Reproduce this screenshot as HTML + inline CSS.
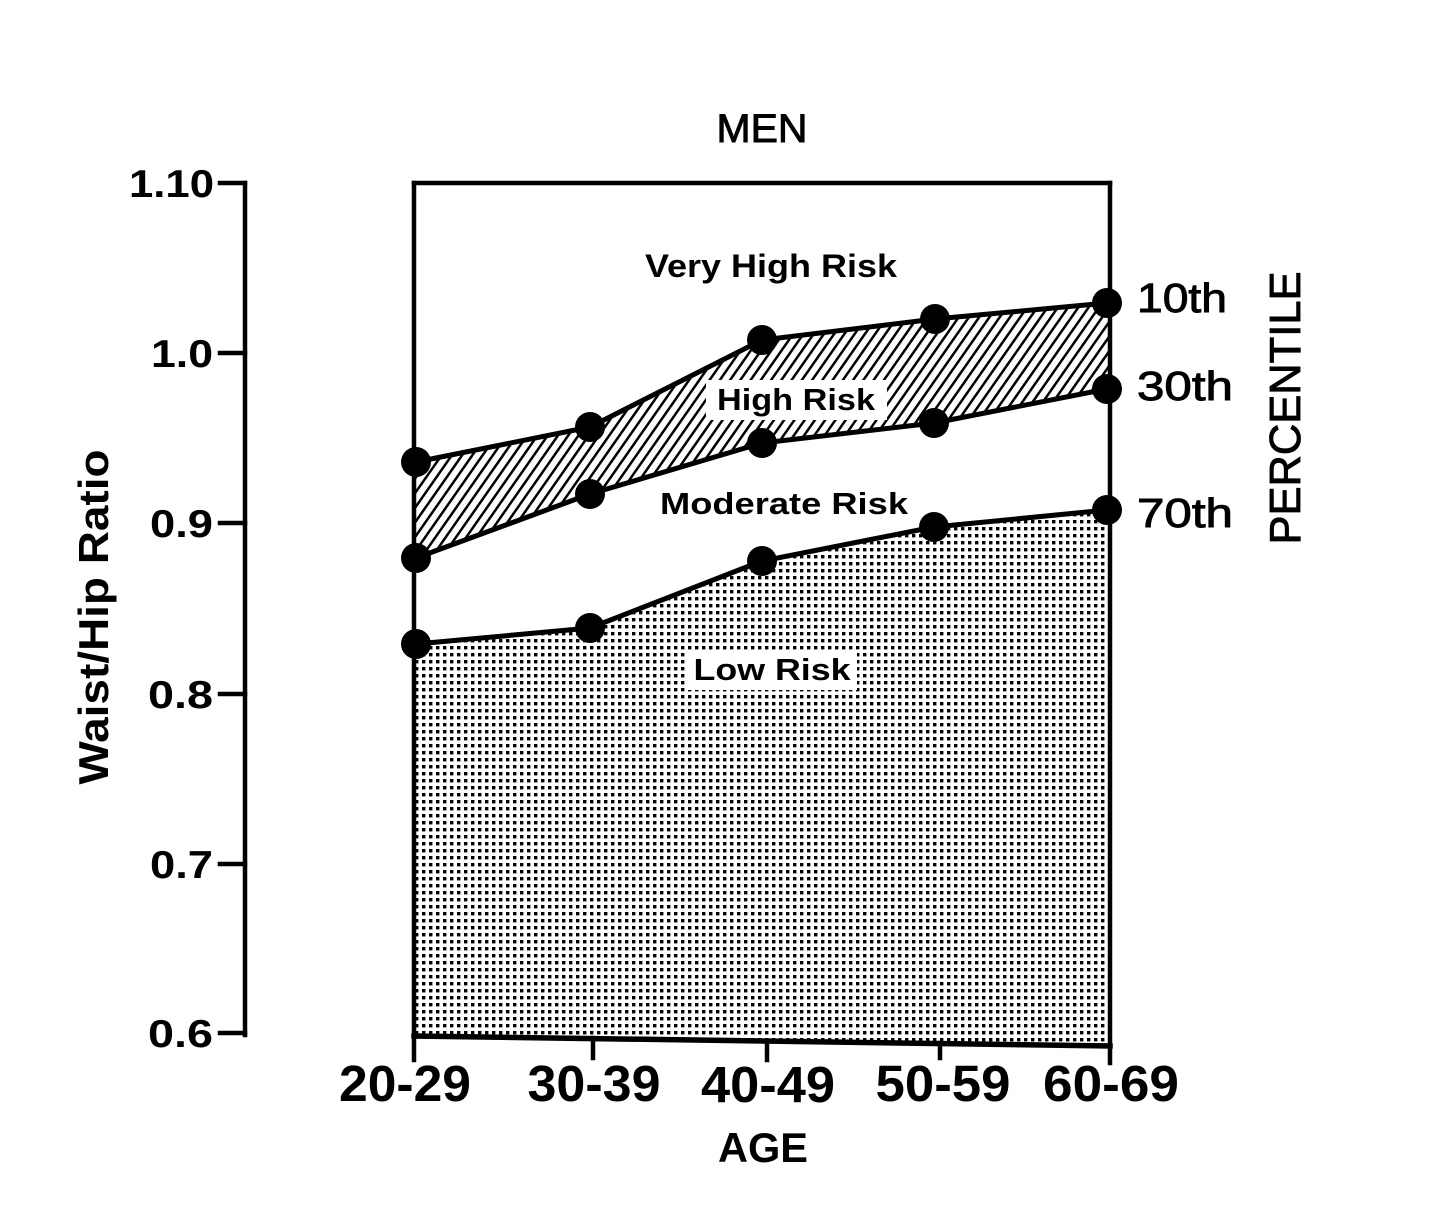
<!DOCTYPE html>
<html>
<head>
<meta charset="utf-8">
<style>
  html, body { margin: 0; padding: 0; background: #fff; }
  svg { display: block; }
  text { font-family: "Liberation Sans", "DejaVu Sans", sans-serif; fill: #000; }
  .med { stroke: #000; stroke-width: 0.9; }
</style>
</head>
<body>
<svg width="1440" height="1230" viewBox="0 0 1440 1230" xmlns="http://www.w3.org/2000/svg">
  <defs>
    <pattern id="dots" patternUnits="userSpaceOnUse" width="7" height="7">
      <rect x="2" y="2" width="3.4" height="3.4" fill="#000"/>
    </pattern>
    <pattern id="hatch" patternUnits="userSpaceOnUse" width="8.4" height="40" patternTransform="rotate(35)">
      <rect x="0" y="0" width="2.5" height="40" fill="#000"/>
    </pattern>
  </defs>

  <rect x="0" y="0" width="1440" height="1230" fill="#fff"/>

  <!-- Low risk dotted area -->
  <polygon points="414,644 590,628 762,561 934,527 1108,510 1108,1046 414,1035" fill="url(#dots)"/>
  <!-- High risk hatched band -->
  <polygon points="414,462 590,427 762,340 935,318 1108,303 1108,388 934,423 762,443 590,494 414,558" fill="url(#hatch)"/>

  <!-- white label backgrounds -->
  <rect x="706" y="380" width="181" height="40" fill="#fff"/>
  <rect x="687" y="650" width="170" height="40" fill="#fff"/>

  <!-- Left axis -->
  <g stroke="#000" stroke-width="4.5" fill="none" stroke-linecap="square">
    <line x1="245" y1="183" x2="245" y2="1035"/>
    <line x1="220" y1="183" x2="245" y2="183"/>
    <line x1="220" y1="353" x2="245" y2="353"/>
    <line x1="220" y1="523" x2="245" y2="523"/>
    <line x1="220" y1="694" x2="245" y2="694"/>
    <line x1="220" y1="864" x2="245" y2="864"/>
    <line x1="220" y1="1033" x2="245" y2="1033"/>
  </g>

  <!-- Chart box -->
  <g stroke="#000" stroke-width="4.5" fill="none" stroke-linecap="square">
    <line x1="414" y1="183" x2="1110" y2="183"/>
    <line x1="414" y1="183" x2="414" y2="1060"/>
    <line x1="1110" y1="183" x2="1110" y2="1063"/>
    <line x1="414" y1="1036" x2="1110" y2="1046" stroke-width="5.5"/>
    <line x1="593" y1="1038" x2="593" y2="1058"/>
    <line x1="767" y1="1041" x2="767" y2="1060"/>
    <line x1="940" y1="1043" x2="940" y2="1058"/>
  </g>

  <!-- Percentile lines -->
  <g stroke="#000" stroke-width="5" fill="none" stroke-linejoin="round">
    <polyline points="416,462 590,427 762,340 935,319 1107,303"/>
    <polyline points="416,558 590,494 762,443 934,423 1107,389"/>
    <polyline points="416,644 590,628 762,561 934,527 1107,510"/>
  </g>

  <!-- Markers -->
  <g fill="#000">
    <circle cx="416" cy="462" r="15"/>
    <circle cx="590" cy="427" r="15"/>
    <circle cx="762" cy="340" r="15"/>
    <circle cx="935" cy="319" r="15"/>
    <circle cx="1107" cy="303" r="15"/>

    <circle cx="416" cy="558" r="15"/>
    <circle cx="590" cy="494" r="15"/>
    <circle cx="762" cy="443" r="15"/>
    <circle cx="934" cy="423" r="15"/>
    <circle cx="1107" cy="389" r="15"/>

    <circle cx="416" cy="644" r="15"/>
    <circle cx="590" cy="628" r="15"/>
    <circle cx="762" cy="561" r="15"/>
    <circle cx="934" cy="527" r="15"/>
    <circle cx="1107" cy="510" r="15"/>
  </g>

  <!-- Title -->
  <text class="med" x="762" y="142" font-size="40" text-anchor="middle" textLength="91" lengthAdjust="spacingAndGlyphs">MEN</text>

  <!-- Region labels -->
  <text x="771" y="277" font-size="32" font-weight="bold" text-anchor="middle" textLength="252" lengthAdjust="spacingAndGlyphs">Very High Risk</text>
  <text x="796" y="410" font-size="31" font-weight="bold" text-anchor="middle" textLength="158" lengthAdjust="spacingAndGlyphs">High Risk</text>
  <text x="784" y="514" font-size="31" font-weight="bold" text-anchor="middle" textLength="248" lengthAdjust="spacingAndGlyphs">Moderate Risk</text>
  <text x="772" y="680" font-size="31" font-weight="bold" text-anchor="middle" textLength="157" lengthAdjust="spacingAndGlyphs">Low Risk</text>

  <!-- Percentile labels -->
  <text class="med" x="1137" y="312" font-size="41" textLength="90" lengthAdjust="spacingAndGlyphs">10th</text>
  <text class="med" x="1137" y="400" font-size="41" textLength="96" lengthAdjust="spacingAndGlyphs">30th</text>
  <text class="med" x="1137" y="527" font-size="41" textLength="96" lengthAdjust="spacingAndGlyphs">70th</text>
  <text class="med" transform="translate(1300,408) rotate(-90)" font-size="44" text-anchor="middle" textLength="273" lengthAdjust="spacingAndGlyphs">PERCENTILE</text>

  <!-- Y axis title -->
  <text transform="translate(108,617) rotate(-90)" font-size="42" font-weight="bold" text-anchor="middle" textLength="335" lengthAdjust="spacingAndGlyphs">Waist/Hip Ratio</text>

  <!-- Y tick labels -->
  <g font-size="39" font-weight="bold" text-anchor="end">
    <text x="214" y="197" textLength="85" lengthAdjust="spacingAndGlyphs">1.10</text>
    <text x="213" y="367" textLength="62" lengthAdjust="spacingAndGlyphs">1.0</text>
    <text x="213" y="537" textLength="63" lengthAdjust="spacingAndGlyphs">0.9</text>
    <text x="213" y="708" textLength="65" lengthAdjust="spacingAndGlyphs">0.8</text>
    <text x="213" y="878" textLength="63" lengthAdjust="spacingAndGlyphs">0.7</text>
    <text x="213" y="1047" textLength="65" lengthAdjust="spacingAndGlyphs">0.6</text>
  </g>

  <!-- X tick labels -->
  <g font-size="51" font-weight="bold" text-anchor="middle">
    <text x="405" y="1101" textLength="132" lengthAdjust="spacingAndGlyphs">20-29</text>
    <text x="594" y="1101" textLength="133" lengthAdjust="spacingAndGlyphs">30-39</text>
    <text x="768" y="1102" textLength="134" lengthAdjust="spacingAndGlyphs">40-49</text>
    <text x="943" y="1101" textLength="135" lengthAdjust="spacingAndGlyphs">50-59</text>
    <text x="1111" y="1101" textLength="136" lengthAdjust="spacingAndGlyphs">60-69</text>
  </g>

  <!-- X axis title -->
  <text x="763" y="1162" font-size="42" font-weight="bold" text-anchor="middle" textLength="90" lengthAdjust="spacingAndGlyphs">AGE</text>
</svg>
</body>
</html>
